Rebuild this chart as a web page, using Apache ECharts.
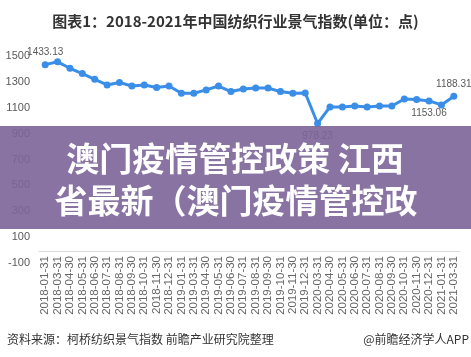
<!DOCTYPE html>
<html>
<head>
<meta charset="utf-8">
<script src="https://cdn.jsdelivr.net/npm/echarts@6/dist/echarts.min.js"></script>
<style>
html,body{margin:0;padding:0;background:#fff;}
#c{width:471px;height:357px;}
</style>
</head>
<body>
<div id="c"></div>
<script>
const categories = [
  '2018-01-31','2018-03-31','2018-04-30','2018-05-31','2018-06-30','2018-07-31','2018-08-31','2018-09-30','2018-10-31','2018-11-30','2018-12-31',
  '2019-01-31','2019-03-31','2019-04-30','2019-05-31','2019-06-30','2019-07-31','2019-08-31','2019-09-30','2019-10-31','2019-11-30','2019-12-31',
  '2020-03-31','2020-04-30','2020-05-31','2020-06-30','2020-07-31','2020-08-31','2020-09-30','2020-10-31','2020-11-30','2020-12-31',
  '2021-01-31','2021-03-31'
];
const values = [
  1433.13,1455,1405,1364,1320,1276,1295,1268,1276,1256,1268,
  1212,1212,1238,1268,1225,1245,1253,1253,1225,1212,1214,
  978.23,1106,1106,1114,1106,1114,1114,1168,1164,1153.06,
  1122,1188.31
];
const yTicks = [-100,100,300,500,700,900,1100,1300,1500];
const labeled = {0:'top',22:'bottom',31:'bottom',33:'top'};
const titleText = '图表1：2018-2021年中国纺织行业景气指数(单位：点)';
const sourceText = '资料来源：柯桥纺织景气指数 前瞻产业研究院整理';
const brandText = '@前瞻经济学人APP';
const bannerLines = ['澳门疫情管控政策 江西','省最新（澳门疫情管控政'];

const seriesData = values.map((v,i)=>{
  if (labeled[i] !== undefined) {
    return {value:v, label:{show:true, position:labeled[i], distance:4, formatter:v.toFixed(2)}};
  }
  return v;
});

const chart = echarts.init(document.getElementById('c'));
chart.setOption({
  animation:false,
  backgroundColor:'#fff',
  textStyle:{fontFamily:'Arial, "Liberation Sans", "Noto Sans CJK SC", sans-serif'},
  title:{
    text:titleText, left:'center', top:9,
    textStyle:{fontSize:15, fontWeight:'bold', color:'#333', fontFamily:'"Noto Sans CJK SC", Arial, sans-serif'}
  },
  grid:{left:39, right:11, top:56, bottom:94},
  xAxis:{
    type:'category', data:categories, boundaryGap:true,
    offset:-12,
    axisLine:{onZero:false, lineStyle:{color:'#d9d9d9'}},
    axisTick:{show:false},
    axisLabel:{rotate:90, interval:0, fontSize:11.5, color:'#666', margin:5}
  },
  yAxis:{
    type:'value', min:-100, max:1500,
    axisLine:{show:false}, axisTick:{show:false},
    splitLine:{show:false},
    axisLabel:{customValues:yTicks, fontSize:11, color:'#595959', margin:9, formatter:(v)=>String(v)}
  },
  series:[{
    type:'line', data:seriesData,
    symbol:'circle', symbolSize:7,
    lineStyle:{width:3, color:'#3a8ee8'},
    itemStyle:{color:'#3a8ee8'},
    label:{fontSize:10, color:'#595959'}
  }],
  graphic:[
    {type:'rect', left:0, top:126, shape:{width:471, height:103}, style:{fill:'#7b6499', opacity:0.9}, z:100},
    {type:'text', x:235, y:158, z:101, style:{text:bannerLines[0], fill:'#fff', fontSize:33, fontWeight:'bold', fontFamily:'"Noto Sans CJK SC", sans-serif', textAlign:'center', textVerticalAlign:'middle'}},
    {type:'text', x:236, y:200, z:101, style:{text:bannerLines[1], fill:'#fff', fontSize:33, fontWeight:'bold', fontFamily:'"Noto Sans CJK SC", sans-serif', textAlign:'center', textVerticalAlign:'middle'}},
    {type:'text', x:7, y:339, z:101, style:{text:sourceText, fill:'#333', fontSize:12, fontFamily:'"Noto Sans CJK SC", sans-serif', textAlign:'left', textVerticalAlign:'middle'}},
    {type:'text', x:469, y:339, z:101, style:{text:brandText, fill:'#333', fontSize:12, fontFamily:'"Noto Sans CJK SC", sans-serif', textAlign:'right', textVerticalAlign:'middle'}}
  ]
});
</script>
</body>
</html>
